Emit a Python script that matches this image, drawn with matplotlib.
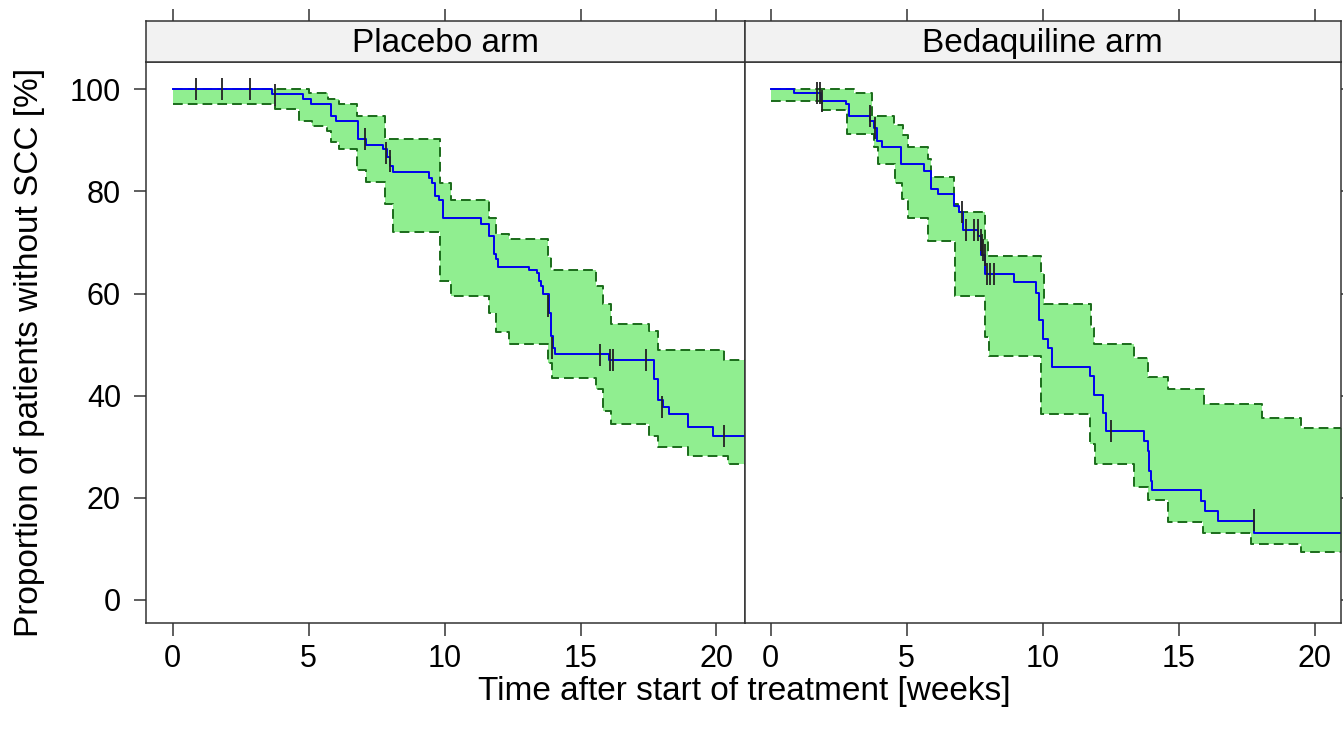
import numpy as np
import matplotlib
matplotlib.use('Agg')
import matplotlib.pyplot as plt

plt.rcParams['font.family'] = ['Liberation Sans', 'DejaVu Sans']

# ---- data (weeks, % without SCC) ----
panel_titles = ['Placebo arm', 'Bedaquiline arm']

# Placebo arm
pla_t = [0, 3.65, 4.78, 5.08, 5.82, 6.0, 6.8, 7.1, 7.75, 7.87, 8.0, 8.09, 9.42, 9.52,
         9.65, 9.80, 9.96, 11.33, 11.64, 11.80, 11.88, 11.97, 13.11, 13.39, 13.46,
         13.54, 13.63, 13.85, 13.91, 13.97, 14.07, 16.06, 17.72, 17.84, 18.02, 18.27,
         18.94, 19.86]
pla_s = [100, 99.1, 98.2, 97.2, 94.8, 93.9, 90.3, 89.2, 88.4, 86.8, 85.0, 83.8, 82.7, 81.7,
         79.1, 78.3, 74.8, 73.6, 71.2, 67.7, 66.7, 65.3, 64.6, 64.0, 62.5,
         61.5, 59.9, 56.3, 51.7, 49.4, 48.1, 47.0, 43.2, 39.1, 37.7, 36.4,
         33.8, 32.2]
pla_up_t = [0, 5.0, 5.73, 6.1, 6.78, 7.82, 9.83, 10.23, 11.64, 11.88, 12.38, 13.79, 13.91,
            15.57, 15.84, 16.12, 17.53, 17.84, 20.29]
pla_up = [100, 99.2, 98.2, 97.2, 94.8, 90.3, 81.7, 78.3, 74.8, 71.6, 70.6, 67.1, 64.6,
          61.5, 57.9, 54.0, 52.7, 48.9, 47.0]
pla_lo_t = [0, 3.77, 4.65, 5.14, 5.69, 5.82, 6.13, 6.78, 7.1, 7.82, 8.09, 9.82, 10.23,
            11.64, 11.88, 12.38, 13.79, 13.95, 15.57, 15.81, 16.12, 17.53, 17.84, 18.94, 20.42]
pla_lo = [97.2, 96.1, 93.8, 92.8, 91.8, 89.7, 88.4, 84.3, 81.9, 77.5, 72.1, 62.5, 59.6,
          56.3, 52.5, 50.2, 46.5, 43.4, 41.3, 37.0, 34.4, 32.2, 29.9, 28.2, 26.7]
pla_cens_t = [0.85, 1.8, 2.84, 3.77, 7.07, 7.84, 7.99, 13.81, 13.95, 15.73, 16.08, 16.2,
              17.42, 18.0, 20.26]
pla_cens_s = [100, 100, 100, 98.9, 90.3, 87.5, 86.0, 57.6, 49.3, 48.0, 47.0, 47.0,
              47.0, 37.7, 32.2]

# Bedaquiline arm
bdq_t = [0, 0.86, 1.84, 2.76, 2.89, 3.65, 3.81, 3.90, 4.08, 4.79, 5.65, 5.89, 6.14, 6.75,
         6.94, 7.06, 7.61, 7.73, 7.89, 8.94, 9.76, 9.88, 10.01, 10.19, 10.34, 11.72,
         11.89, 12.22, 12.34, 13.73, 13.85, 13.91, 13.97, 14.03, 15.80, 15.96, 16.45, 17.78]
bdq_s = [100, 99.2, 97.8, 97.1, 94.8, 93.8, 92.5, 89.9, 88.8, 85.3, 84.0, 80.4, 79.5, 77.2,
         75.9, 72.4, 71.3, 67.5, 63.8, 62.2, 60.2, 54.8, 51.2, 49.3, 45.7, 43.8,
         40.2, 36.7, 33.1, 31.2, 29.2, 25.3, 23.3, 21.5, 19.4, 17.5, 15.5, 13.2]
bdq_up_t = [0, 3.07, 3.74, 4.54, 4.85, 5.03, 5.77, 5.89, 6.75, 6.90, 7.86, 7.98, 9.92,
            10.04, 11.76, 11.89, 13.36, 13.87, 14.61, 15.94, 18.05, 19.48]
bdq_up = [100, 99.2, 94.8, 93.0, 91.0, 88.8, 86.3, 82.9, 77.5, 75.9, 70.6, 67.4, 64.1,
          57.9, 53.2, 50.1, 47.4, 43.6, 41.4, 38.4, 35.6, 33.6]
bdq_lo_t = [0, 1.9, 2.82, 3.81, 3.93, 4.58, 4.83, 5.03, 5.77, 6.79, 7.86, 8.04, 9.92,
            11.72, 11.91, 13.36, 13.87, 14.61, 15.9, 17.64, 19.48]
bdq_lo = [97.8, 95.9, 91.2, 88.8, 85.3, 81.7, 78.5, 74.9, 70.3, 59.6, 51.6, 47.7, 36.4,
          30.5, 26.6, 22.2, 19.6, 15.2, 13.2, 11.0, 9.3]
bdq_cens_t = [1.72, 1.80, 1.88, 3.65, 3.84, 7.03, 7.18, 7.47, 7.61, 7.73, 7.78, 7.82, 7.86,
              7.94, 8.07, 8.22, 12.49, 17.78]
bdq_cens_s = [99.2, 99.2, 97.8, 94.8, 92.5, 75.9, 72.4, 72.4, 72.4, 70.5, 69.5, 68.5, 67.5,
              63.8, 63.8, 63.8, 33.1, 15.7]

x_ticks = [0, 5, 10, 15, 20]
y_ticks = [0, 20, 40, 60, 80, 100]
t_end = 22


def step_eval(grid, times, vals):
    idx = np.searchsorted(np.asarray(times), grid, side='right') - 1
    return np.asarray(vals)[idx]


def draw_panel(ax, t, s, up_t, up, lo_t, lo, ct, cs):
    grid = np.unique(np.concatenate([up_t, lo_t, [t_end]]))
    u = step_eval(grid, up_t, up)
    l = step_eval(grid, lo_t, lo)
    ax.fill_between(grid, l, u, step='post', color='#90EE90', lw=0)
    ax.step(grid, u, where='post', color='#1a6b1a', lw=1.4, dashes=(5, 2.6))
    ax.step(grid, l, where='post', color='#1a6b1a', lw=1.4, dashes=(5, 2.6))
    ax.step(list(t) + [t_end], list(s) + [s[-1]], where='post', color='#0000ee', lw=1.4)
    ax.plot(ct, cs, '|', color='#222222', ms=16, mew=1.3)


fig = plt.figure(figsize=(13.43, 7.33), dpi=100)
W, H = 1343.0, 733.0
panels = [(146, 744.5, (-0.98, 21.03)), (744.5, 1341, (-0.96, 20.96))]
data = [(pla_t, pla_s, pla_up_t, pla_up, pla_lo_t, pla_lo, pla_cens_t, pla_cens_s),
        (bdq_t, bdq_s, bdq_up_t, bdq_up, bdq_lo_t, bdq_lo, bdq_cens_t, bdq_cens_s)]
fs_tick = 22
fs_lab = 24

for i, ((x0, x1, xl), d) in enumerate(zip(panels, data)):
    ax = fig.add_axes([x0 / W, 1 - 622.7 / H, (x1 - x0) / W, (622.7 - 62.3) / H])
    draw_panel(ax, *d)
    ax.set_xlim(xl)
    ax.set_ylim(-4.45, 105.3)
    ax.set_xticks(x_ticks)
    ax.set_yticks(y_ticks)
    ax.tick_params(direction='out', length=9, width=1.1, labelsize=fs_tick,
                   color='#333333', pad=6)
    ax.tick_params(axis='y', pad=9)
    if i == 0:
        ax.tick_params(left=True, right=False, labelleft=True)
    else:
        ax.tick_params(left=False, right=True, labelleft=False, labelright=False)
    for sp in ax.spines.values():
        sp.set_color('#333333')
        sp.set_linewidth(1.1)

    st = fig.add_axes([x0 / W, 1 - 62.3 / H, (x1 - x0) / W, (62.3 - 20.7) / H])
    st.set_facecolor('#f2f2f2')
    st.set_xlim(xl)
    st.set_ylim(0, 1)
    st.set_xticks(x_ticks)
    st.set_yticks([])
    st.tick_params(axis='x', direction='out', length=9, width=1.1, color='#333333',
                   bottom=False, top=True, labelbottom=False, labeltop=False)
    for sp in st.spines.values():
        sp.set_color('#333333')
        sp.set_linewidth(1.1)
    st.text(0.5, 0.45, panel_titles[i], transform=st.transAxes, ha='center', va='center',
            fontsize=fs_lab)

fig.text(30 / W, 1 - 352 / H, 'Proportion of patients without SCC [%]', rotation=90,
         ha='center', va='center', fontsize=fs_lab)
fig.text(744 / W, 1 - 700 / H, 'Time after start of treatment [weeks]',
         ha='center', va='baseline', fontsize=fs_lab)

fig.savefig('out.png', dpi=100)
